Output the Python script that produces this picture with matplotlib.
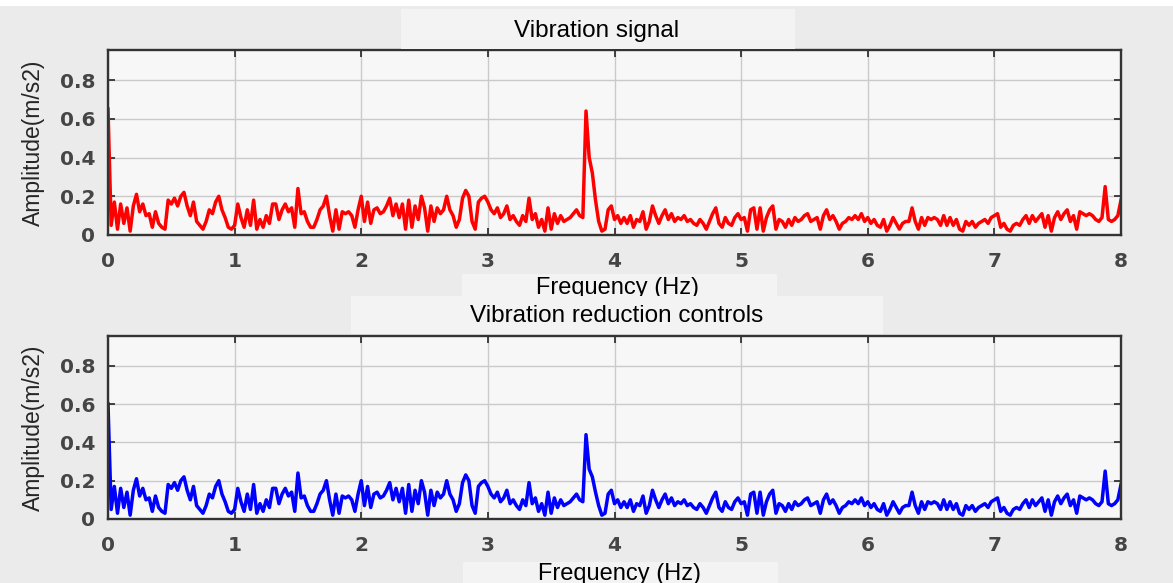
import numpy as np
import matplotlib
matplotlib.use("Agg")
import matplotlib.pyplot as plt
from matplotlib.patches import Rectangle

# amplitude spectra, one value every 0.025 Hz (0 .. 8 Hz)
vibration = [
    0.65, 0.05, 0.17, 0.03, 0.16, 0.06, 0.14, 0.02, 0.15, 0.21, 0.12, 0.16, 0.10, 0.11, 0.04, 0.12, 0.06, 0.04, 0.03, 0.18,
    0.16, 0.19, 0.15, 0.20, 0.22, 0.15, 0.10, 0.17, 0.07, 0.05, 0.03, 0.07, 0.13, 0.11, 0.17, 0.20, 0.13, 0.09, 0.04, 0.03,
    0.05, 0.16, 0.09, 0.04, 0.13, 0.05, 0.18, 0.03, 0.08, 0.04, 0.10, 0.06, 0.16, 0.16, 0.08, 0.13, 0.16, 0.12, 0.14, 0.04,
    0.24, 0.11, 0.12, 0.07, 0.04, 0.04, 0.08, 0.13, 0.15, 0.20, 0.10, 0.02, 0.13, 0.03, 0.12, 0.11, 0.12, 0.10, 0.04, 0.13,
    0.20, 0.07, 0.17, 0.06, 0.13, 0.14, 0.11, 0.12, 0.15, 0.19, 0.10, 0.16, 0.09, 0.16, 0.03, 0.18, 0.04, 0.15, 0.08, 0.20,
    0.14, 0.02, 0.15, 0.07, 0.14, 0.11, 0.13, 0.20, 0.13, 0.10, 0.04, 0.08, 0.19, 0.23, 0.20, 0.07, 0.03, 0.17, 0.19, 0.20,
    0.17, 0.13, 0.11, 0.14, 0.09, 0.11, 0.15, 0.08, 0.10, 0.07, 0.05, 0.10, 0.07, 0.19, 0.08, 0.11, 0.04, 0.08, 0.02, 0.14,
    0.03, 0.11, 0.06, 0.10, 0.07, 0.08, 0.09, 0.11, 0.13, 0.10, 0.09, 0.64, 0.40, 0.32, 0.18, 0.07, 0.02, 0.03, 0.13, 0.15,
    0.08, 0.10, 0.06, 0.09, 0.06, 0.10, 0.04, 0.08, 0.07, 0.12, 0.03, 0.07, 0.15, 0.10, 0.06, 0.10, 0.13, 0.08, 0.11, 0.07,
    0.09, 0.08, 0.10, 0.07, 0.08, 0.06, 0.05, 0.08, 0.06, 0.03, 0.07, 0.11, 0.14, 0.06, 0.04, 0.09, 0.06, 0.05, 0.09, 0.11,
    0.08, 0.09, 0.02, 0.13, 0.14, 0.03, 0.14, 0.02, 0.09, 0.13, 0.15, 0.03, 0.08, 0.07, 0.04, 0.08, 0.05, 0.09, 0.07, 0.08,
    0.10, 0.11, 0.07, 0.08, 0.09, 0.03, 0.10, 0.13, 0.08, 0.10, 0.07, 0.03, 0.06, 0.07, 0.09, 0.08, 0.10, 0.08, 0.11, 0.07,
    0.09, 0.06, 0.08, 0.05, 0.04, 0.08, 0.02, 0.05, 0.09, 0.06, 0.03, 0.06, 0.07, 0.07, 0.14, 0.07, 0.03, 0.09, 0.05, 0.09,
    0.08, 0.09, 0.08, 0.05, 0.10, 0.05, 0.09, 0.05, 0.08, 0.03, 0.02, 0.07, 0.05, 0.07, 0.04, 0.06, 0.07, 0.08, 0.06, 0.09,
    0.10, 0.11, 0.04, 0.06, 0.03, 0.02, 0.05, 0.06, 0.05, 0.08, 0.10, 0.06, 0.10, 0.07, 0.09, 0.11, 0.04, 0.10, 0.02, 0.09,
    0.12, 0.08, 0.11, 0.13, 0.07, 0.10, 0.03, 0.12, 0.11, 0.10, 0.11, 0.10, 0.08, 0.07, 0.09, 0.25, 0.08, 0.07, 0.08, 0.10,
    0.18,
]

controlled = [
    0.60, 0.05, 0.17, 0.03, 0.16, 0.06, 0.14, 0.02, 0.15, 0.21, 0.12, 0.16, 0.10, 0.11, 0.04, 0.12, 0.06, 0.04, 0.03, 0.18,
    0.16, 0.19, 0.15, 0.20, 0.22, 0.15, 0.10, 0.17, 0.07, 0.05, 0.03, 0.07, 0.13, 0.11, 0.17, 0.20, 0.13, 0.09, 0.04, 0.03,
    0.05, 0.16, 0.09, 0.04, 0.13, 0.05, 0.18, 0.03, 0.08, 0.04, 0.10, 0.06, 0.16, 0.16, 0.08, 0.13, 0.16, 0.12, 0.14, 0.04,
    0.24, 0.11, 0.12, 0.07, 0.04, 0.04, 0.08, 0.13, 0.15, 0.20, 0.10, 0.02, 0.13, 0.03, 0.12, 0.11, 0.12, 0.10, 0.04, 0.13,
    0.20, 0.07, 0.17, 0.06, 0.13, 0.14, 0.11, 0.12, 0.15, 0.19, 0.10, 0.16, 0.09, 0.16, 0.03, 0.18, 0.04, 0.15, 0.08, 0.20,
    0.14, 0.02, 0.15, 0.07, 0.14, 0.11, 0.13, 0.20, 0.13, 0.10, 0.04, 0.08, 0.19, 0.23, 0.20, 0.07, 0.03, 0.17, 0.19, 0.20,
    0.17, 0.13, 0.11, 0.14, 0.09, 0.11, 0.15, 0.08, 0.10, 0.07, 0.05, 0.10, 0.07, 0.19, 0.08, 0.11, 0.04, 0.08, 0.02, 0.14,
    0.03, 0.11, 0.06, 0.10, 0.07, 0.08, 0.09, 0.11, 0.13, 0.10, 0.09, 0.44, 0.26, 0.22, 0.14, 0.07, 0.02, 0.03, 0.13, 0.15,
    0.08, 0.10, 0.06, 0.09, 0.06, 0.10, 0.04, 0.08, 0.07, 0.12, 0.03, 0.07, 0.15, 0.10, 0.06, 0.10, 0.13, 0.08, 0.11, 0.07,
    0.09, 0.08, 0.10, 0.07, 0.08, 0.06, 0.05, 0.08, 0.06, 0.03, 0.07, 0.11, 0.14, 0.06, 0.04, 0.09, 0.06, 0.05, 0.09, 0.11,
    0.08, 0.09, 0.02, 0.13, 0.14, 0.03, 0.14, 0.02, 0.09, 0.13, 0.15, 0.03, 0.08, 0.07, 0.04, 0.08, 0.05, 0.09, 0.07, 0.08,
    0.10, 0.11, 0.07, 0.08, 0.09, 0.03, 0.10, 0.13, 0.08, 0.10, 0.07, 0.03, 0.06, 0.07, 0.09, 0.08, 0.10, 0.08, 0.11, 0.07,
    0.09, 0.06, 0.08, 0.05, 0.04, 0.08, 0.02, 0.05, 0.09, 0.06, 0.03, 0.06, 0.07, 0.07, 0.14, 0.07, 0.03, 0.09, 0.05, 0.09,
    0.08, 0.09, 0.08, 0.05, 0.10, 0.05, 0.09, 0.05, 0.08, 0.03, 0.02, 0.07, 0.05, 0.07, 0.04, 0.06, 0.07, 0.08, 0.06, 0.09,
    0.10, 0.11, 0.04, 0.06, 0.03, 0.02, 0.05, 0.06, 0.05, 0.08, 0.10, 0.06, 0.10, 0.07, 0.09, 0.11, 0.04, 0.10, 0.02, 0.09,
    0.12, 0.08, 0.11, 0.13, 0.07, 0.10, 0.03, 0.12, 0.11, 0.10, 0.11, 0.10, 0.08, 0.07, 0.09, 0.25, 0.08, 0.07, 0.08, 0.10,
    0.18,
]

freq_step = 0.025
freq = np.arange(len(vibration)) * freq_step

x_ticks = [0, 1, 2, 3, 4, 5, 6, 7, 8]
y_ticks = [0, 0.2, 0.4, 0.6, 0.8]
y_tick_labels = ["0", "0.2", "0.4", "0.6", "0.8"]

titles = ["Vibration signal", "Vibration reduction controls"]
x_label = "Frequency (Hz)"
y_label = "Amplitude(m/s2)"

W, H = 1173, 583
BG = "#ebebeb"
BOX = "#f3f3f3"


def px(x, y):
    # pixel (from top-left) -> figure fraction
    return x / W, 1 - y / H


def add_box(fig, x0, y0, x1, y1, color=BOX, z=1):
    fx, fy = px(x0, y1)
    fig.add_artist(Rectangle((fx, fy), (x1 - x0) / W, (y1 - y0) / H,
                             transform=fig.transFigure, facecolor=color,
                             edgecolor="none", zorder=z))


def style_axes(ax):
    ax.set_facecolor("#f7f7f7")
    ax.set_xlim(0, 8)
    ax.set_ylim(0, 0.955)
    ax.set_xticks(x_ticks)
    ax.set_yticks(y_ticks)
    ax.set_yticklabels(y_tick_labels)
    ax.grid(True, color="#cacaca", linewidth=1.0)
    ax.set_axisbelow(True)
    ax.tick_params(direction="in", length=5, width=1.3, colors="#333333",
                   top=True, right=True, labelsize=14.5, labelcolor="#454545")
    ax.tick_params(axis="x", pad=12)
    ax.tick_params(axis="y", pad=9)
    for lab in ax.get_xticklabels() + ax.get_yticklabels():
        lab.set_fontweight("bold")
        lab.set_family("DejaVu Sans")
    for sp in ax.spines.values():
        sp.set_color("#333333")
        sp.set_linewidth(1.7)


fig = plt.figure(figsize=(W / 100, H / 100), dpi=100)
fig.patch.set_facecolor(BG)

# white strip at the very top
add_box(fig, 0, 0, W, 6, color="white")

ax1 = fig.add_axes([108 / W, 1 - 235 / H, 1013 / W, 185 / H])
ax2 = fig.add_axes([108 / W, 1 - 519 / H, 1013 / W, 183 / H])

ax1.plot(freq, vibration, color="#ff0000", linewidth=2.5)
ax2.plot(freq, controlled, color="#0000ff", linewidth=2.5)

for ax in (ax1, ax2):
    style_axes(ax)

# y labels
for top, bot in [(50, 235), (336, 519)]:
    fx, fy = px(33, (top + bot) / 2)
    fig.text(fx, fy, y_label, rotation=90, ha="center", va="center",
             fontsize=16.5, family="Liberation Sans", color="#262626")

# title / x-label boxes and text
text_kw = dict(ha="center", va="baseline", family="Liberation Sans", color="black")

add_box(fig, 401, 9, 795, 49, z=1)
fx, fy = px(597, 37)
fig.text(fx, fy, titles[0], fontsize=17.5, zorder=2, **text_kw)

add_box(fig, 462, 274, 777, 296, z=3)
fx, fy = px(618, 294)
fig.text(fx, fy, x_label, fontsize=17, zorder=4, **text_kw)

add_box(fig, 351, 296, 883, 334, z=5)
fx, fy = px(617, 322)
fig.text(fx, fy, titles[1], fontsize=17.5, zorder=6, **text_kw)

add_box(fig, 463, 562, 778, 583, z=7)
fx, fy = px(619, 580)
fig.text(fx, fy, x_label, fontsize=17, zorder=8, **text_kw)

fig.savefig("out.png", dpi=100, facecolor=fig.get_facecolor())
